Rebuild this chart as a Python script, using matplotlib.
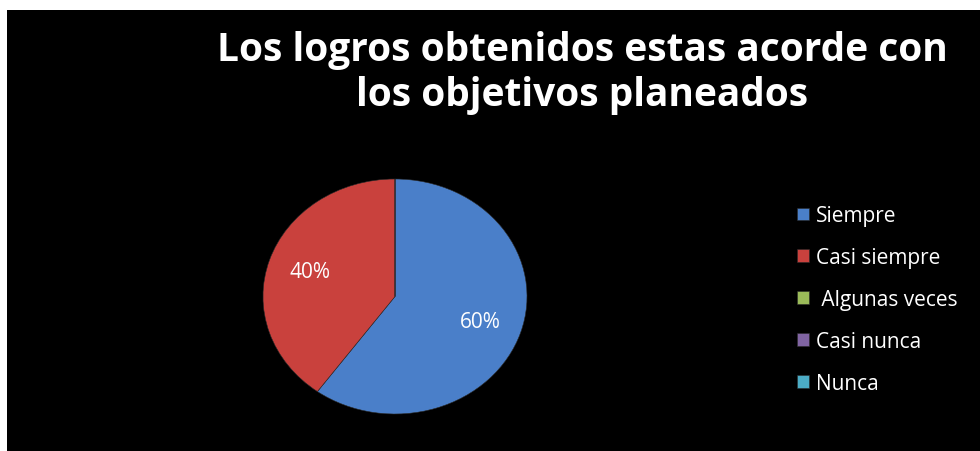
import matplotlib
matplotlib.use("Agg")
import matplotlib.pyplot as plt
from matplotlib.patches import Rectangle

plt.rcParams['font.family'] = ['Open Sans', 'DejaVu Sans']

# data
categorias = ["Siempre", "Casi siempre", " Algunas veces", "Casi nunca", "Nunca"]
porcentajes = [60, 40, 0, 0, 0]
colores = ["#4a7fc9", "#c9413d", "#9bbb59", "#8064a2", "#4bacc6"]
titulo = "Los logros obtenidos estas acorde con\nlos objetivos planeados"

fig = plt.figure(figsize=(9.8, 4.52), dpi=100)
fig.patch.set_facecolor("white")
# black chart area (white strip at top and left)
fig.patches.append(Rectangle((7 / 980, 0), 1, 441 / 452, transform=fig.transFigure,
                             facecolor="black", edgecolor="none", zorder=-5))

ax = fig.add_axes([263 / 980, 37 / 452, 264 / 980, 235 / 452])
ax.set_facecolor("none")


def etiqueta(p):
    return f"{p:.0f}%" if p > 0 else ""


wedges, texts, autotexts = ax.pie(porcentajes, colors=colores, startangle=90,
                                  counterclock=False, autopct=etiqueta,
                                  pctdistance=0.68,
                                  wedgeprops=dict(edgecolor="#2a2a2a", linewidth=0.4),
                                  textprops=dict(color="white", fontsize=15))
ax.set_aspect("auto")
ax.set_xlim(-1, 1)
ax.set_ylim(-1, 1)

fig.text(0.594, 0.838, titulo, ha="center", va="center", color="white",
         fontsize=28, fontweight="bold", linespacing=1.2)

leg = fig.legend(wedges, categorias, loc="upper left", bbox_to_anchor=(0.805, 0.562),
                 frameon=False, fontsize=15, labelcolor="white",
                 handlelength=0.55, handleheight=0.55, handletextpad=0.35,
                 labelspacing=1.0, borderaxespad=0)

fig.savefig("out.png", dpi=100, facecolor=fig.get_facecolor())
